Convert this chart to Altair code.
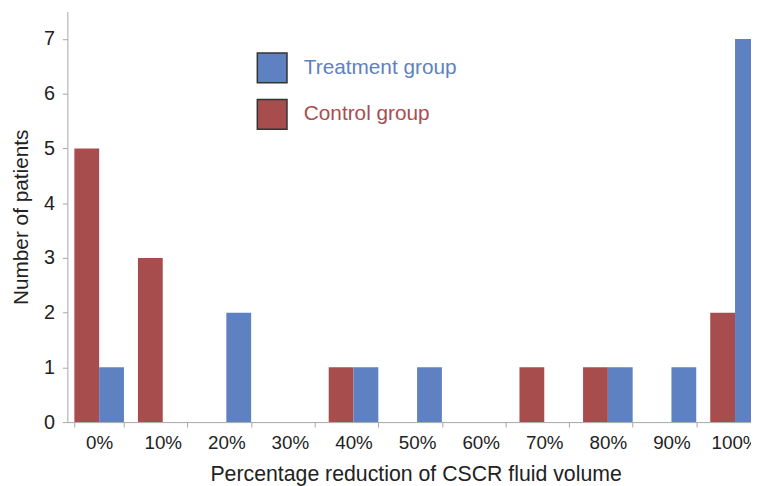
import altair as alt
import pandas as pd

categories = ["0%", "10%", "20%", "30%", "40%", "50%", "60%", "70%", "80%", "90%", "100%"]
control = [5, 3, 0, 0, 1, 0, 0, 1, 1, 0, 2]
treatment = [1, 0, 2, 0, 1, 1, 0, 0, 1, 1, 7]
groups = ["Treatment group", "Control group"]
colors = ["#5E81C1", "#A84D4E"]

rows = []
for c, cv, tv in zip(categories, control, treatment):
    rows.append({"cat": c, "group": "Control group", "n": cv})
    rows.append({"cat": c, "group": "Treatment group", "n": tv})
df = pd.DataFrame(rows)

FONT = "Liberation Sans"

chart = alt.Chart(df).mark_bar(clip=True).encode(
    x=alt.X("cat:N", sort=categories,
            scale=alt.Scale(domain=categories, range=[0, 707], paddingInner=0.22, paddingOuter=0.11),
            axis=alt.Axis(title="Percentage reduction of CSCR fluid volume", labelAngle=0,
                          tickBand="extent", tickSize=5, labelPadding=7, labelFontSize=19,
                          titlePadding=11, titleX=352, titleFontSize=21.5)),
    xOffset=alt.XOffset("group:N", scale=alt.Scale(domain=["Control group", "Treatment group"])),
    y=alt.Y("n:Q", scale=alt.Scale(domain=[0, 7.5], nice=False),
            axis=alt.Axis(title="Number of patients", values=list(range(8)), tickSize=5,
                          labelPadding=8, titlePadding=12, format="d",
                          labelFontSize=20, titleFontSize=21)),
    color=alt.Color("group:N", scale=alt.Scale(domain=groups, range=colors),
                    legend=alt.Legend(title=None, orient="none", legendX=191, legendY=41,
                                      symbolType="square", symbolSize=900,
                                      symbolStrokeColor="#333333", symbolStrokeWidth=1.5,
                                      labelFontSize=21, labelOffset=16, rowPadding=11,
                                      labelColor={"expr": "datum.value == 'Treatment group' ? '#5E81C1' : '#A84D4E'"})),
).properties(
    width=691, height=415,
    autosize=alt.AutoSizeParams(type="none"),
    padding={"left": 60, "top": 1, "right": 0, "bottom": 62},
).configure_view(stroke=None).configure_axis(
    grid=False, domainColor="#A6A6A6", tickColor="#A6A6A6",
    labelFont=FONT, titleFont=FONT,
    labelColor="#222222", titleColor="#222222", titleFontWeight="normal",
).configure_legend(labelFont=FONT)

chart.save("out.html", embed_options={"renderer": "svg", "actions": False})
